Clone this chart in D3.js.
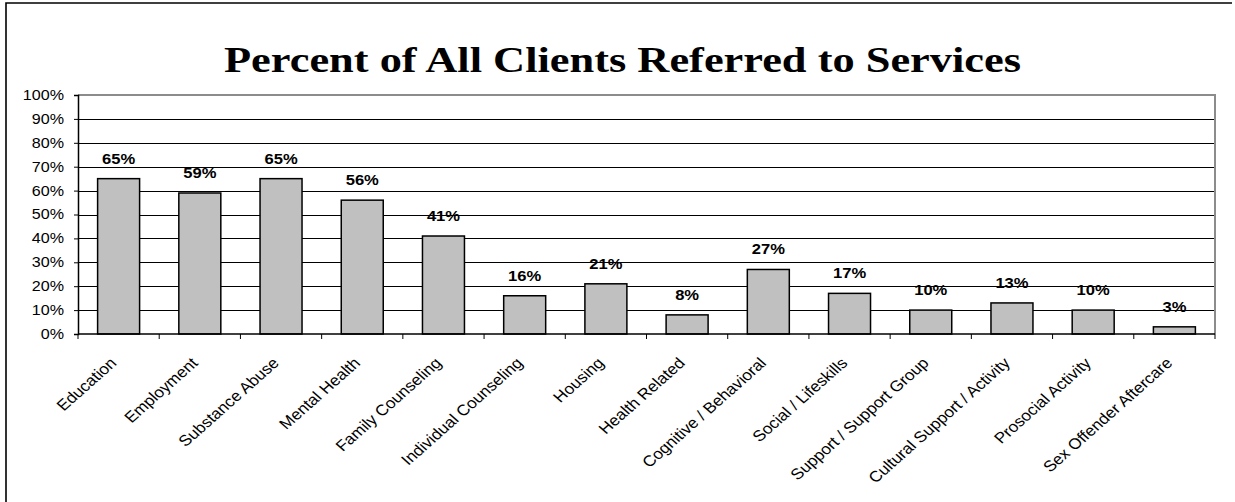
<!DOCTYPE html>
<html>
<head>
<meta charset="utf-8">
<script src="https://cdn.jsdelivr.net/npm/d3@7"></script>
<style>
  html, body { margin: 0; padding: 0; background: #fff; }
  svg { display: block; }
</style>
</head>
<body>
<svg id="chart" width="1235" height="502"></svg>
<script>
// Service categories and the share of clients referred to each (percent)
const categories = [
  "Education", "Employment", "Substance Abuse", "Mental Health",
  "Family Counseling", "Individual Counseling", "Housing", "Health Related",
  "Cognitive / Behavioral", "Social / Lifeskills", "Support / Support Group",
  "Cultural Support / Activity", "Prosocial Activity", "Sex Offender Aftercare"
];
const percents = [65, 59, 65, 56, 41, 16, 21, 8, 27, 17, 10, 13, 10, 3];
const yTicks = [0, 10, 20, 30, 40, 50, 60, 70, 80, 90, 100];
const titleText = "Percent of All Clients Referred to Services";

const data = categories.map((c, i) => ({ category: c, value: percents[i] }));

const svg = d3.select("#chart");
const H = 502;
const plot = { left: 78, right: 1215, top: 95, bottom: 334 };
const stretch = 1.13;           // text is drawn slightly wide
const sans = "Arial, 'Liberation Sans', sans-serif";

// Outer frame (left and top edges)
svg.append("path")
  .attr("d", `M6,${H + 5} L6,3 L1232,3`)
  .attr("fill", "none")
  .attr("stroke", "#000")
  .attr("stroke-width", 1.6);

// Title
svg.append("text")
  .attr("x", 622.5)
  .attr("y", 72)
  .attr("text-anchor", "middle")
  .attr("font-family", "'Liberation Serif', 'Times New Roman', serif")
  .attr("font-weight", "bold")
  .attr("font-size", 36)
  .attr("fill", "#000")
  .attr("textLength", 797)
  .attr("lengthAdjust", "spacingAndGlyphs")
  .text(titleText);

const x = d3.scaleBand()
  .domain(categories)
  .range([plot.left, plot.right])
  .paddingInner(0.483)
  .paddingOuter(0.2415);

const y = d3.scaleLinear()
  .domain([0, 100])
  .range([plot.bottom, plot.top]);

// Horizontal gridlines
svg.append("g")
  .selectAll("line")
  .data(yTicks.filter(t => t > 0 && t < 100))
  .join("line")
  .attr("x1", plot.left)
  .attr("x2", plot.right)
  .attr("y1", d => Math.round(y(d)) + 0.5)
  .attr("y2", d => Math.round(y(d)) + 0.5)
  .attr("stroke", "#000")
  .attr("stroke-width", 1);

// Plot frame: gray top and right edges
svg.append("path")
  .attr("d", `M${plot.left},${y(100)} L${plot.right},${y(100)} L${plot.right},${plot.bottom}`)
  .attr("fill", "none")
  .attr("stroke", "#8c8c8c")
  .attr("stroke-width", 2);

// Bars
svg.append("g")
  .selectAll("rect")
  .data(data)
  .join("rect")
  .attr("x", d => x(d.category))
  .attr("y", d => y(d.value))
  .attr("width", x.bandwidth())
  .attr("height", d => y(0) - y(d.value))
  .attr("fill", "#c0c0c0")
  .attr("stroke", "#000")
  .attr("stroke-width", 1.5);

// Value labels above bars
svg.append("g")
  .selectAll("text")
  .data(data)
  .join("text")
  .attr("transform", d => `translate(${x(d.category) + x.bandwidth() / 2},${y(d.value) - 15}) scale(1.12,1)`)
  .attr("text-anchor", "middle")
  .attr("font-family", sans)
  .attr("font-weight", "bold")
  .attr("font-size", 14.8)
  .attr("fill", "#000")
  .text(d => d3.format("d")(d.value) + "%");

// Y axis
const yAxis = svg.append("g")
  .attr("transform", `translate(${plot.left},0)`)
  .call(d3.axisLeft(y).tickValues(yTicks).tickSize(4).tickPadding(0)
    .tickFormat(d => d + "%"));
yAxis.select(".domain").attr("stroke", "#000").attr("stroke-width", 1.5);
yAxis.selectAll(".tick line").attr("stroke", "#000");
yAxis.selectAll(".tick text")
  .attr("x", 0)
  .attr("transform", "translate(-14,0) scale(1.15,1)")
  .attr("font-family", sans)
  .attr("font-size", 14)
  .attr("fill", "#000");

// X axis line with ticks at category boundaries
const boundaries = categories.map(c => x(c) - x.step() * x.paddingInner() / 2)
  .concat([plot.right]);
svg.append("line")
  .attr("x1", plot.left).attr("x2", plot.right)
  .attr("y1", plot.bottom).attr("y2", plot.bottom)
  .attr("stroke", "#000").attr("stroke-width", 1.5);
svg.append("g")
  .selectAll("line")
  .data(boundaries)
  .join("line")
  .attr("x1", d => d).attr("x2", d => d)
  .attr("y1", plot.bottom).attr("y2", plot.bottom + 5)
  .attr("stroke", "#000").attr("stroke-width", 1);

// Slanted category labels
svg.append("g")
  .selectAll("text")
  .data(categories)
  .join("text")
  .attr("transform", d => `translate(${x(d) + x.bandwidth() / 2 - 1},${plot.bottom + 30}) scale(${stretch},1) rotate(-45)`)
  .attr("text-anchor", "end")
  .attr("font-family", sans)
  .attr("font-size", 15.2)
  .attr("fill", "#000")
  .text(d => d);
</script>
</body>
</html>
